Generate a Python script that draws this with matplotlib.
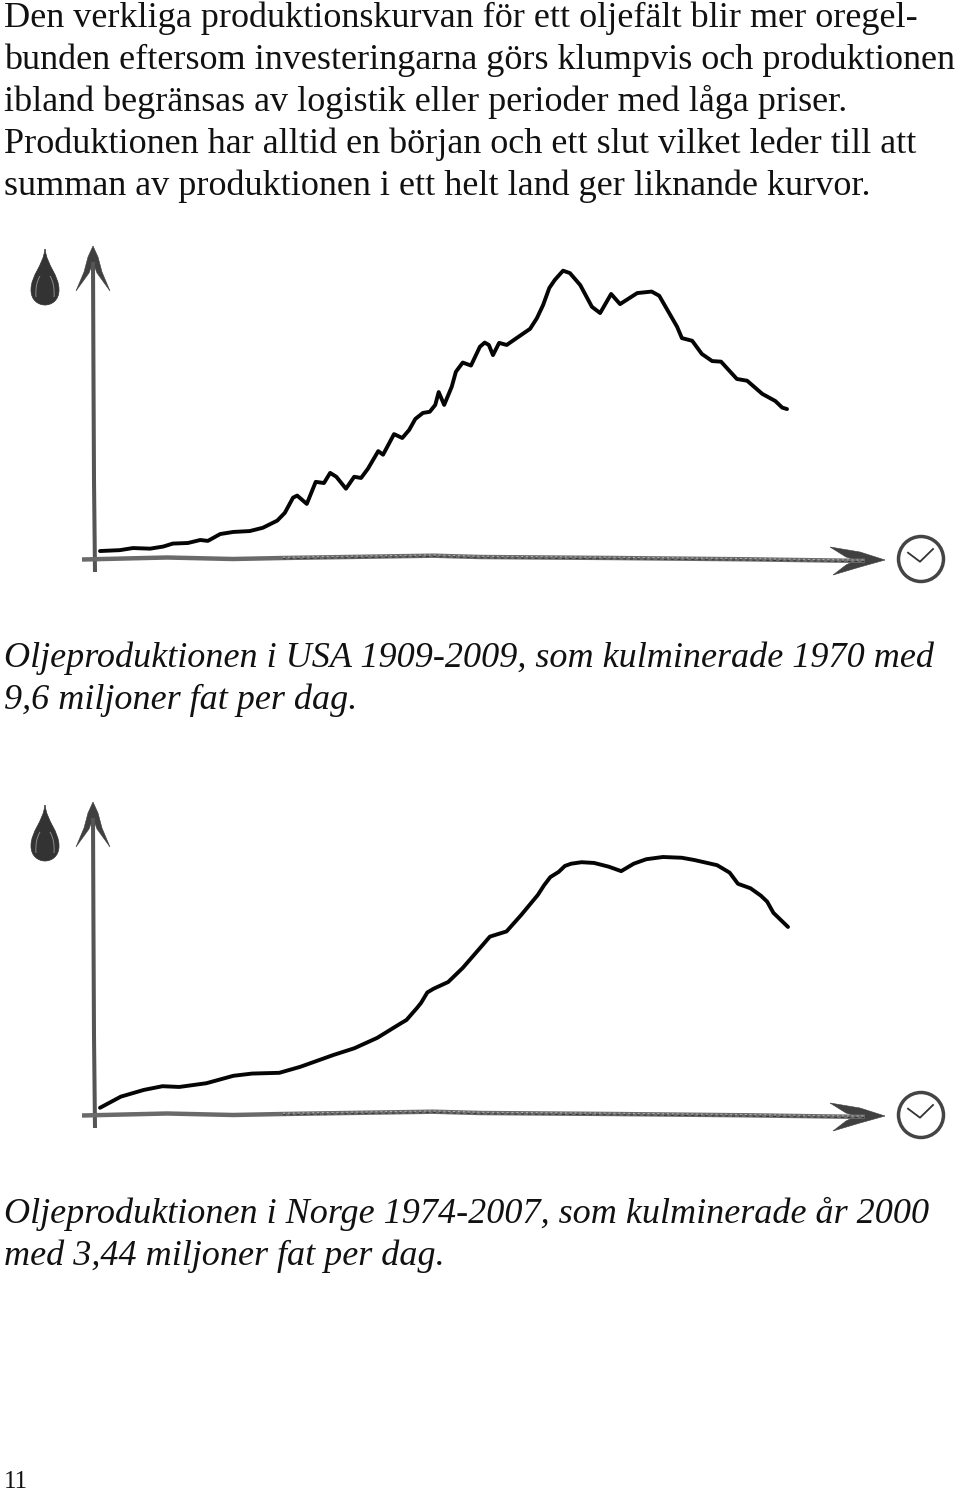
import matplotlib
matplotlib.use("Agg")
import matplotlib.pyplot as plt
from matplotlib.path import Path
from matplotlib.patches import PathPatch, Circle

W, H = 960, 1492

intro = [
    "Den verkliga produktionskurvan för ett oljefält blir mer oregel-",
    "bunden eftersom investeringarna görs klumpvis och produktionen",
    "ibland begränsas av logistik eller perioder med låga priser.",
    "Produktionen har alltid en början och ett slut vilket leder till att",
    "summan av produktionen i ett helt land ger liknande kurvor.",
]
caption_usa = [
    "Oljeproduktionen i USA 1909-2009, som kulminerade 1970 med",
    "9,6 miljoner fat per dag.",
]
caption_norge = [
    "Oljeproduktionen i Norge 1974-2007, som kulminerade år 2000",
    "med 3,44 miljoner fat per dag.",
]
page_number = "11"

usa_years = [1909.0, 1911.9, 1913.8, 1916.3, 1918.2, 1919.6, 1921.8, 1923.6, 1924.7, 1926.5,
             1928.4, 1930.8, 1932.7, 1934.8, 1935.9, 1937.1, 1937.7, 1939.1, 1940.4, 1941.6,
             1942.5, 1943.4, 1944.8, 1946.0, 1947.0, 1948.0, 1949.5, 1950.2, 1951.8, 1953.0,
             1954.0, 1954.9, 1956.0, 1957.0, 1957.8, 1958.3, 1959.1, 1960.2, 1960.8, 1961.8,
             1963.0, 1964.3, 1965.0, 1965.6, 1966.2, 1967.1, 1968.2, 1969.7, 1971.6, 1972.6,
             1973.5, 1974.4, 1975.2, 1976.4, 1977.4, 1978.9, 1980.6, 1981.8, 1983.4, 1984.7,
             1987.2, 1989.3, 1990.4, 1993.0, 1993.7, 1995.2, 1996.6, 1998.1, 1999.4, 2001.7,
             2003.2, 2005.4, 2007.3, 2008.3, 2009.0]
usa_prod = [0.20, 0.23, 0.30, 0.28, 0.35, 0.45, 0.47, 0.57, 0.54, 0.77,
            0.84, 0.87, 0.98, 1.22, 1.48, 1.99, 2.06, 1.78, 2.52, 2.48,
            2.82, 2.69, 2.29, 2.69, 2.65, 2.96, 3.55, 3.43, 4.12, 3.99,
            4.26, 4.63, 4.83, 4.87, 5.10, 5.53, 5.10, 5.71, 6.21, 6.52,
            6.42, 7.05, 7.19, 7.11, 6.77, 7.18, 7.11, 7.35, 7.65, 8.01,
            8.45, 9.02, 9.29, 9.60, 9.52, 9.12, 8.39, 8.18, 8.82, 8.48,
            8.85, 8.90, 8.76, 7.72, 7.34, 7.25, 6.81, 6.57, 6.55, 5.97,
            5.91, 5.47, 5.23, 5.01, 4.96]

norge_years = [1974.0, 1975.0, 1976.1, 1977.0, 1977.8, 1979.1, 1980.4, 1981.3, 1982.6, 1983.6,
               1985.2, 1986.2, 1987.3, 1988.4, 1988.7, 1989.2, 1989.4, 1989.7, 1990.0, 1990.7,
               1991.4, 1992.3, 1992.7, 1993.5, 1994.2, 1995.0, 1995.3, 1995.6, 1996.0, 1996.3,
               1996.6, 1997.1, 1997.7, 1998.4, 1999.0, 1999.6, 2000.2, 2001.0, 2001.9, 2002.5,
               2003.6, 2004.2, 2004.6, 2005.2, 2005.7, 2006.0, 2006.3, 2007.0]
norge_prod = [0.07, 0.22, 0.31, 0.36, 0.35, 0.40, 0.50, 0.53, 0.54, 0.62,
              0.78, 0.87, 1.01, 1.20, 1.25, 1.41, 1.48, 1.62, 1.67, 1.76,
              1.95, 2.24, 2.37, 2.44, 2.66, 2.93, 3.06, 3.17, 3.24, 3.32,
              3.35, 3.37, 3.36, 3.31, 3.25, 3.35, 3.41, 3.44, 3.43, 3.40,
              3.33, 3.23, 3.08, 3.02, 2.92, 2.84, 2.69, 2.50]

plt.rcParams["font.family"] = ["Liberation Serif", "DejaVu Serif"]
fig = plt.figure(figsize=(W / 100, H / 100), dpi=100)

# page layer in pixel coords for text and the hand drawn furniture
page = fig.add_axes([0, 0, 1, 1])
page.set_xlim(0, W)
page.set_ylim(H, 0)
page.axis("off")

GRAY = "#555555"


def draw_text(lines, y, style="normal", gap=42):
    for i, line in enumerate(lines):
        page.text(4, y + i * gap, line, fontsize=26.05, style=style, color="#111111", va="baseline")


def draw_drop(dy):
    verts = [(45, 249 + dy), (43, 266 + dy), (31, 275 + dy), (31, 290 + dy),
             (31, 300 + dy), (38, 305 + dy), (45, 305 + dy),
             (52, 305 + dy), (59, 300 + dy), (59, 290 + dy),
             (59, 275 + dy), (47, 266 + dy), (45, 249 + dy)]
    codes = [Path.MOVETO] + [Path.CURVE4] * 12
    page.add_patch(PathPatch(Path(verts, codes), fc="#333333", ec="#333333", lw=0.5))
    for x0, x1, x2 in [(40, 35, 36), (50, 55, 54)]:
        hl = Path([(x0, 276 + dy), (x1, 284 + dy), (x2, 297 + dy)], [Path.MOVETO, Path.CURVE3, Path.CURVE3])
        page.add_patch(PathPatch(hl, fc="none", ec="#999999", lw=0.6))


def draw_axes_marks(dy):
    # vertical axis
    page.plot([93, 93.5, 94, 95], [262 + dy, 380 + dy, 480 + dy, 572 + dy], color=GRAY, lw=2.9, solid_capstyle="butt")
    head = Path([(93, 246 + dy), (98, 257 + dy), (102, 272 + dy), (110, 291 + dy),
                 (97, 273 + dy), (94, 265 + dy), (92, 265 + dy),
                 (89, 273 + dy), (76, 291 + dy), (84, 272 + dy), (88, 257 + dy), (93, 246 + dy)],
                [Path.MOVETO] + [Path.LINETO] * 11)
    page.add_patch(PathPatch(head, fc="#404040", ec="#404040", lw=0.4))
    # horizontal axis, lighter dashes on top give the pencil grain
    xs = [82, 167, 233, 283, 367, 433, 480, 613, 747, 847, 865]
    ys = [559.5, 557.5, 559, 558, 556.7, 555.7, 557, 558, 559.3, 560.7, 560.7]
    ys = [v + dy for v in ys]
    page.plot(xs, ys, color="#6a6a6a", lw=3.2, solid_capstyle="butt")
    page.plot(xs[3:], [v - 0.8 for v in ys[3:]], color="#b5b5b5", lw=0.7, ls=(0, (2, 3)))
    page.plot(xs[3:], [v + 0.8 for v in ys[3:]], color="#333333", lw=0.7, ls=(0, (3, 4)))
    arrow = Path([(885, 560 + dy), (860, 552 + dy), (830, 547 + dy), (846, 557 + dy), (856, 560 + dy),
                  (846, 565 + dy), (833, 575 + dy), (860, 567 + dy), (885, 560 + dy)],
                 [Path.MOVETO] + [Path.LINETO] * 8)
    page.add_patch(PathPatch(arrow, fc="#404040", ec="#404040", lw=0.4))


def draw_clock(dy):
    page.add_patch(Circle((921, 559 + dy), 22.5, fc="white", ec="#444444", lw=2.5))
    page.plot([908, 920, 933], [552.7 + dy, 561.7 + dy, 549 + dy], color="#333333", lw=1.3)


def draw_curve(rect_px, years, prod, ymax, lw):
    x0, x1, y_top, y_base = rect_px
    ax = fig.add_axes([x0 / W, 1 - y_base / H, (x1 - x0) / W, (y_base - y_top) / H])
    ax.patch.set_alpha(0)
    ax.set_xlim(years[0], years[-1])
    ax.set_ylim(0, ymax)
    ax.axis("off")
    ax.plot(years, prod, color="#050505", lw=lw, clip_on=False,
            solid_capstyle="round", solid_joinstyle="round")


draw_text(intro, 27)
draw_text(caption_usa, 667, style="italic")
draw_text(caption_norge, 1223, style="italic")
page.text(4, 1488, page_number, fontsize=18, color="#111111", va="baseline")

for dy in [0, 556]:
    draw_drop(dy)
    draw_axes_marks(dy)
    draw_clock(dy)

draw_curve((100, 787, 270.7, 557), usa_years, usa_prod, 9.6, 2.8)
draw_curve((100, 788, 857, 1113), norge_years, norge_prod, 3.44, 2.8)

fig.savefig("out.png", dpi=100)
